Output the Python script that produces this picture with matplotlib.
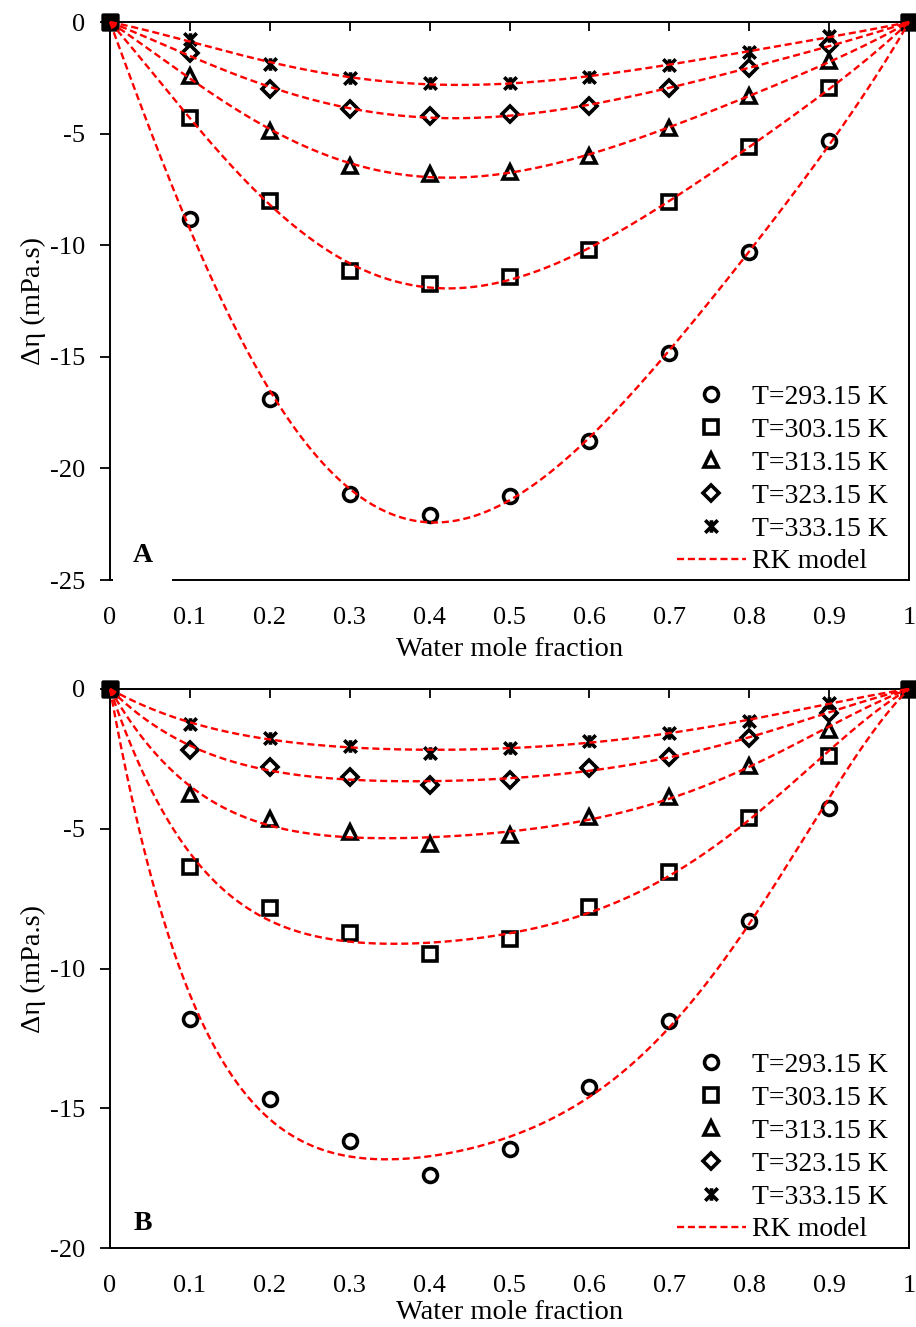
import numpy as np
import matplotlib
matplotlib.use("Agg")
import matplotlib.pyplot as plt
from matplotlib.path import Path
from matplotlib.patches import Rectangle

plt.rcParams['font.family'] = ['Liberation Serif', 'DejaVu Serif']
plt.rcParams['axes.unicode_minus'] = False

# water mole fraction (0 and 1 are the pure components)
x_water = np.array([0.0, 0.1, 0.2, 0.3, 0.4, 0.5, 0.6, 0.7, 0.8, 0.9, 1.0])
temps = ['T=293.15 K', 'T=303.15 K', 'T=313.15 K', 'T=323.15 K', 'T=333.15 K']

# panel A, viscosity deviation (mPa.s)
a_293 = [0, -8.83, -16.90, -21.16, -22.09, -21.22, -18.77, -14.84, -10.32, -5.33, 0]
a_303 = [0, -4.31, -8.02, -11.14, -11.75, -11.41, -10.21, -8.05, -5.62, -2.94, 0]
a_313 = [0, -2.42, -4.87, -6.44, -6.81, -6.71, -5.99, -4.73, -3.32, -1.75, 0]
a_323 = [0, -1.40, -3.02, -3.91, -4.21, -4.14, -3.75, -2.97, -2.07, -1.03, 0]
a_333 = [0, -0.78, -1.88, -2.52, -2.72, -2.72, -2.45, -1.93, -1.33, -0.63, 0]

# panel B
b_293 = [0, -11.81, -14.67, -16.17, -17.39, -16.46, -14.24, -11.87, -8.30, -4.25, 0]
b_303 = [0, -6.38, -7.85, -8.74, -9.48, -8.96, -7.81, -6.55, -4.63, -2.40, 0]
b_313 = [0, -3.76, -4.65, -5.11, -5.55, -5.22, -4.57, -3.85, -2.74, -1.47, 0]
b_323 = [0, -2.18, -2.78, -3.14, -3.45, -3.26, -2.83, -2.42, -1.74, -0.87, 0]
b_333 = [0, -1.26, -1.74, -2.04, -2.28, -2.12, -1.85, -1.59, -1.13, -0.51, 0]

# Excel-like asterisk marker (X with a vertical bar)
star_path = Path([(-1, -1), (1, 1), (-1, 1), (1, -1), (0, -1), (0, 1)],
                 [Path.MOVETO, Path.LINETO, Path.MOVETO, Path.LINETO, Path.MOVETO, Path.LINETO])
markers = ['o', 's', '^', 'D', star_path]
msizes = [10, 10, 10.5, 8, 9]


def rk_fit(x, y, nterms=4):
    'least squares Redlich-Kister coefficients'
    z = 2 * x - 1
    basis = np.column_stack([x * (1 - x) * z ** k for k in range(nterms)])
    return np.linalg.lstsq(basis, y, rcond=None)[0]


def rk_eval(coef, x):
    z = 2 * x - 1
    return x * (1 - x) * sum(c * z ** k for k, c in enumerate(coef))


def make_panel(ax, series, ymin, letter, gap=False, xlabelpad=6):
    xx = np.linspace(0, 1, 301)
    handles = []
    for n, y in enumerate(series):
        y = np.array(y)
        h, = ax.plot(x_water[1:-1], y[1:-1], linestyle='', marker=markers[n],
                     markersize=msizes[n], markerfacecolor='none', markeredgecolor='black',
                     markeredgewidth=2.6, color='black', label=temps[n], zorder=3, clip_on=False)
        handles.append(h)
        ax.plot(x_water[[0, -1]], y[[0, -1]], linestyle='', marker='s', markersize=11,
                color='black', zorder=3, clip_on=False)
    for y in series:
        coef = rk_fit(x_water, np.array(y))
        line, = ax.plot(xx, rk_eval(coef, xx), color='red', lw=1.7,
                        linestyle=(0, (3, 1.6)), zorder=4, clip_on=False)
    line.set_label('RK model')
    handles.append(line)

    ax.set_xlim(0, 1)
    ax.set_ylim(ymin, 0)
    ax.set_xticks(np.arange(0, 1.01, 0.1))
    ax.set_xticklabels(['0', '0.1', '0.2', '0.3', '0.4', '0.5', '0.6', '0.7', '0.8', '0.9', '1'])
    ax.set_yticks(np.arange(ymin, 0.1, 5))
    ax.tick_params(axis='x', bottom=False, top=True, labelbottom=True, labeltop=False,
                   direction='in', length=6.5, width=1.3, pad=19.5, labelsize=19)
    ax.tick_params(axis='y', left=True, right=False, direction='out', length=7,
                   width=1.3, pad=11, labelsize=19)
    for s in ax.spines.values():
        s.set_linewidth(1.4)
    ax.set_xlabel('Water mole fraction', fontsize=20.5, labelpad=xlabelpad)
    ax.set_ylabel('Δη (mPa.s)', fontsize=20.5, labelpad=2.5)
    ax.text(0.041, 0.044, letter, transform=ax.transAxes, fontsize=20, fontweight='bold',
            ha='center', va='center', zorder=5)
    if gap:
        # white label box hiding part of the bottom border
        ax.add_patch(Rectangle((0.004, -0.01), 0.073, 0.09, transform=ax.transAxes,
                               facecolor='white', edgecolor='none', zorder=2.6, clip_on=False))
    ax.legend(handles=handles, loc='lower right', bbox_to_anchor=(0.98, 0.0), frameon=False,
              fontsize=20, handlelength=2.5, handletextpad=0.2, labelspacing=0.27,
              borderpad=0.2, borderaxespad=0.0)


fig = plt.figure(figsize=(9.16, 13.27), dpi=100)
ax_a = fig.add_axes([0.1201, 0.5629, 0.8723, 0.4205])
ax_b = fig.add_axes([0.1201, 0.0595, 0.8723, 0.4213])

make_panel(ax_a, [a_293, a_303, a_313, a_323, a_333], -25, 'A', gap=True)
make_panel(ax_b, [b_293, b_303, b_313, b_323, b_333], -20, 'B', xlabelpad=2)

fig.savefig('out.png', dpi=100)
